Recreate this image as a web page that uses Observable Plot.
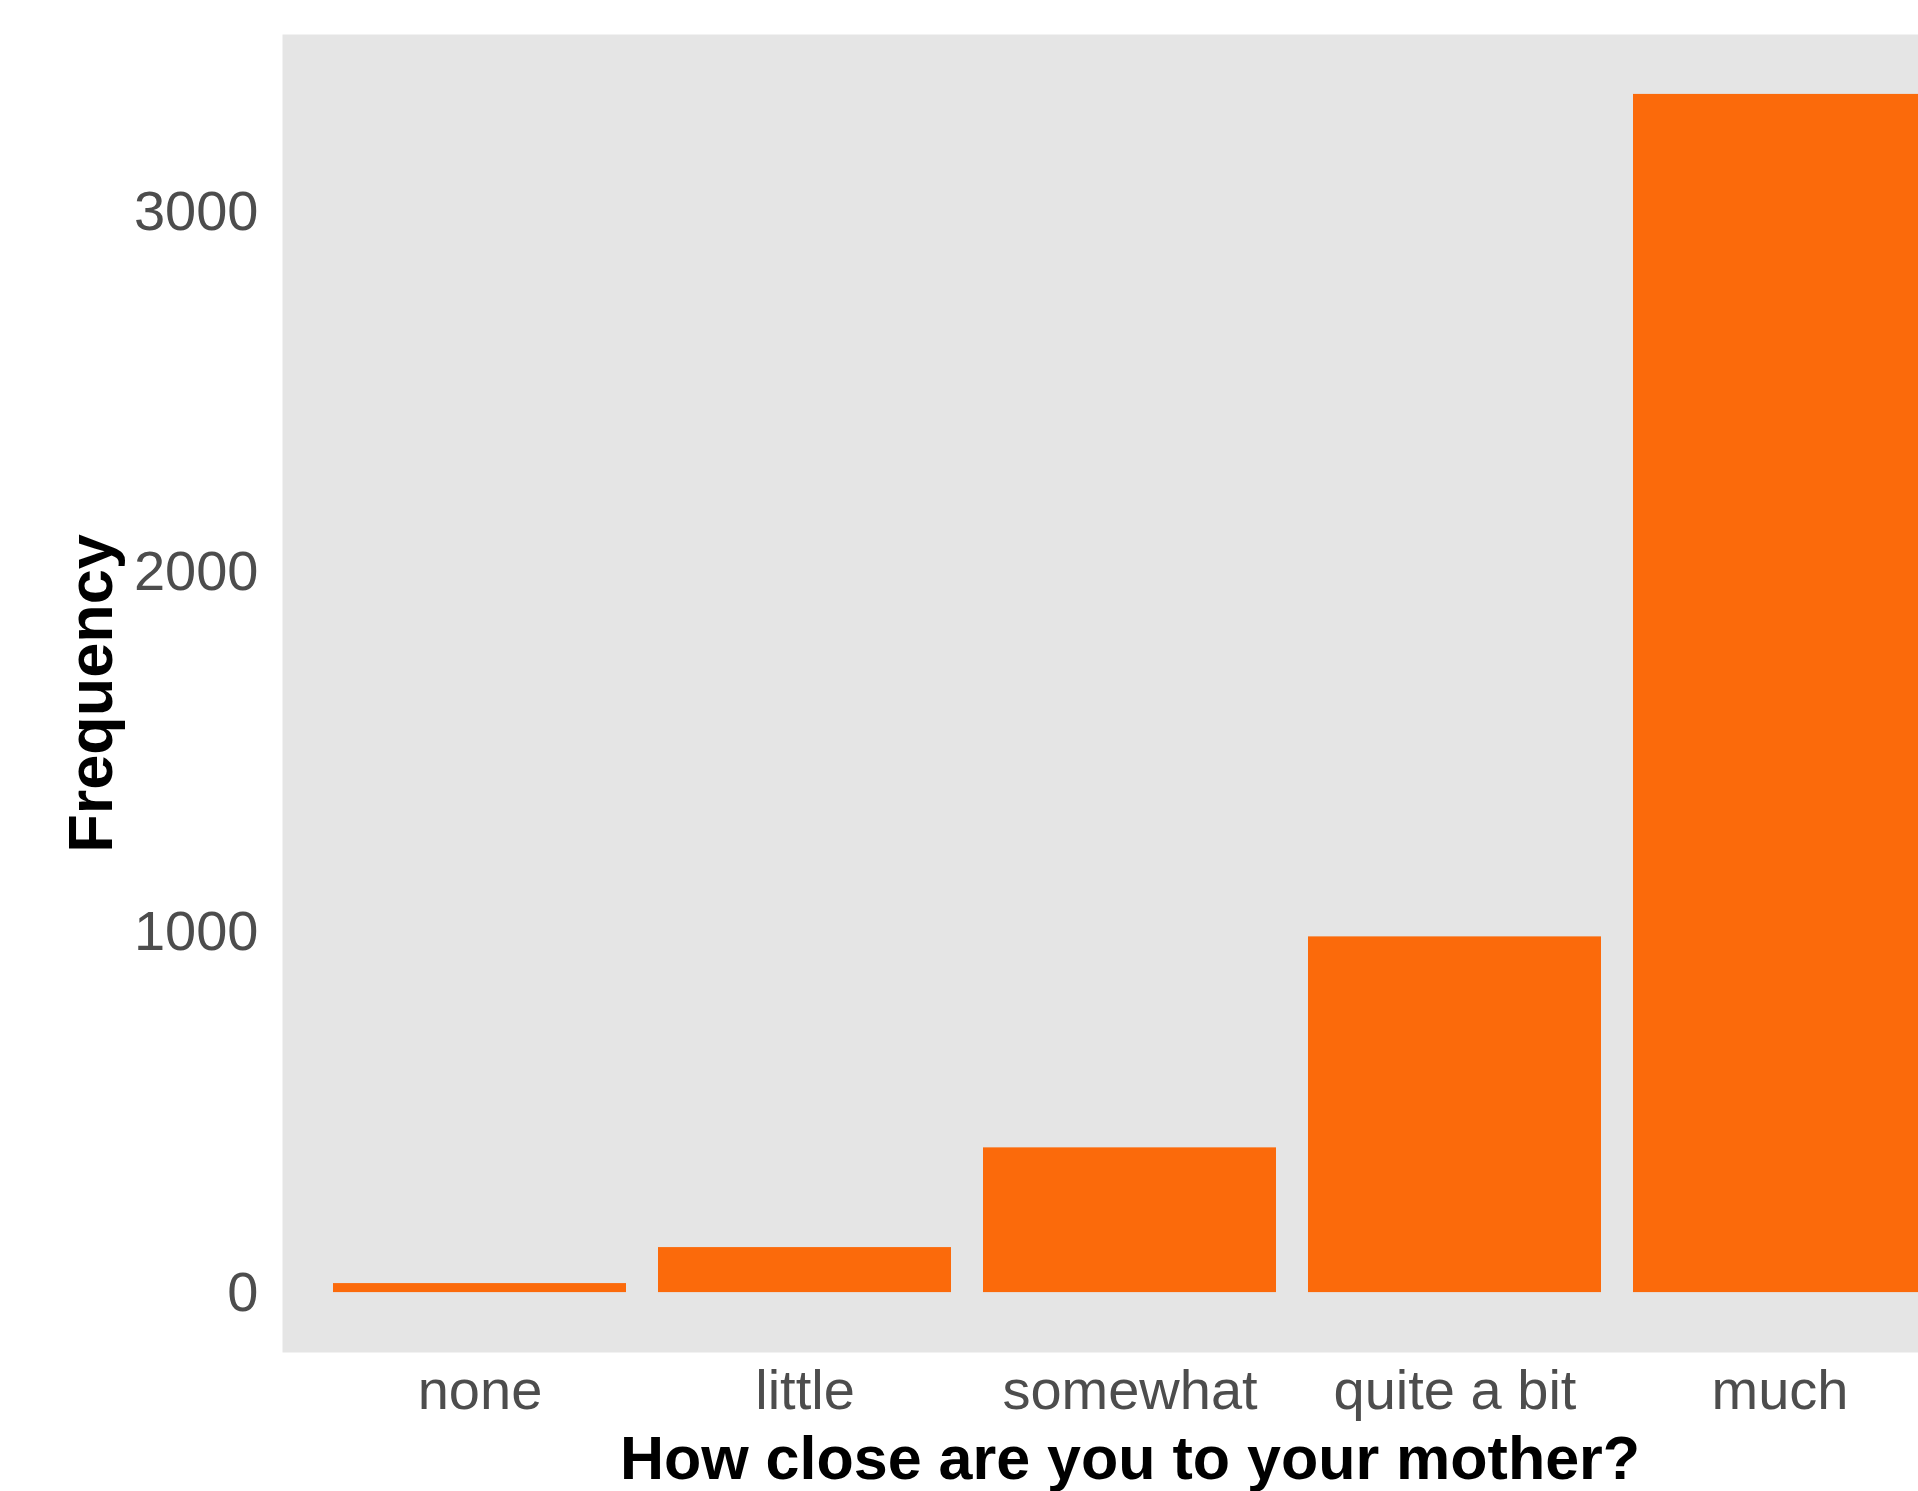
<!DOCTYPE html>
<html>
<head>
<meta charset="utf-8">
<script src="https://cdn.jsdelivr.net/npm/d3@7"></script>
<script src="https://cdn.jsdelivr.net/npm/@observablehq/plot@0.6"></script>
<style>
  html, body { margin: 0; padding: 0; background: #ffffff; overflow: hidden; }
  #wrap { width: 1918px; height: 1491px; overflow: hidden; }
  svg { font-family: "Liberation Sans", Arial, Helvetica, sans-serif; }
</style>
</head>
<body>
<div id="wrap"></div>
<script>
const categories = ["none", "little", "somewhat", "quite a bit", "much"];
const frequencies = [25, 125, 402, 988, 3328];
const yTicks = [0, 1000, 2000, 3000];
const xTitle = "How close are you to your mother?";
const yTitle = "Frequency";

const data = categories.map((c, i) => ({category: c, frequency: frequencies[i]}));
const maxVal = d3.max(frequencies);
const expand = 0.05 * maxVal;

const chart = Plot.plot({
  width: 1977,
  height: 1491,
  marginLeft: 282,
  marginRight: 0,
  marginTop: 34,
  marginBottom: 139,
  style: {background: "#ffffff", maxWidth: "none", overflow: "hidden"},
  x: {type: "band", domain: categories, paddingInner: 0.1, paddingOuter: 0.15},
  y: {domain: [-expand, maxVal + expand]},
  marks: [
    Plot.frame({fill: "#e5e5e5", stroke: null}),
    Plot.barY(data, {x: "category", y: "frequency", fill: "#fb6a0b"}),
    Plot.axisY({
      ticks: yTicks,
      tickFormat: d => String(d),
      tickSize: 0,
      tickPadding: 24,
      fontSize: 56,
      color: "#4d4d4d",
      label: null
    }),
    Plot.axisY({
      ticks: [],
      tickSize: 0,
      label: yTitle,
      labelAnchor: "center",
      labelArrow: "none",
      labelOffset: 215,
      fontSize: 63,
      fontWeight: "bold",
      color: "#000000"
    }),
    Plot.axisX({
      tickSize: 0,
      tickPadding: 17,
      fontSize: 56,
      color: "#4d4d4d",
      label: null
    }),
    Plot.axisX({
      ticks: [],
      tickSize: 0,
      label: xTitle,
      labelAnchor: "center",
      labelArrow: "none",
      labelOffset: 126,
      fontSize: 61,
      fontWeight: "bold",
      color: "#000000"
    })
  ]
});
document.getElementById("wrap").appendChild(chart);
</script>
</body>
</html>
